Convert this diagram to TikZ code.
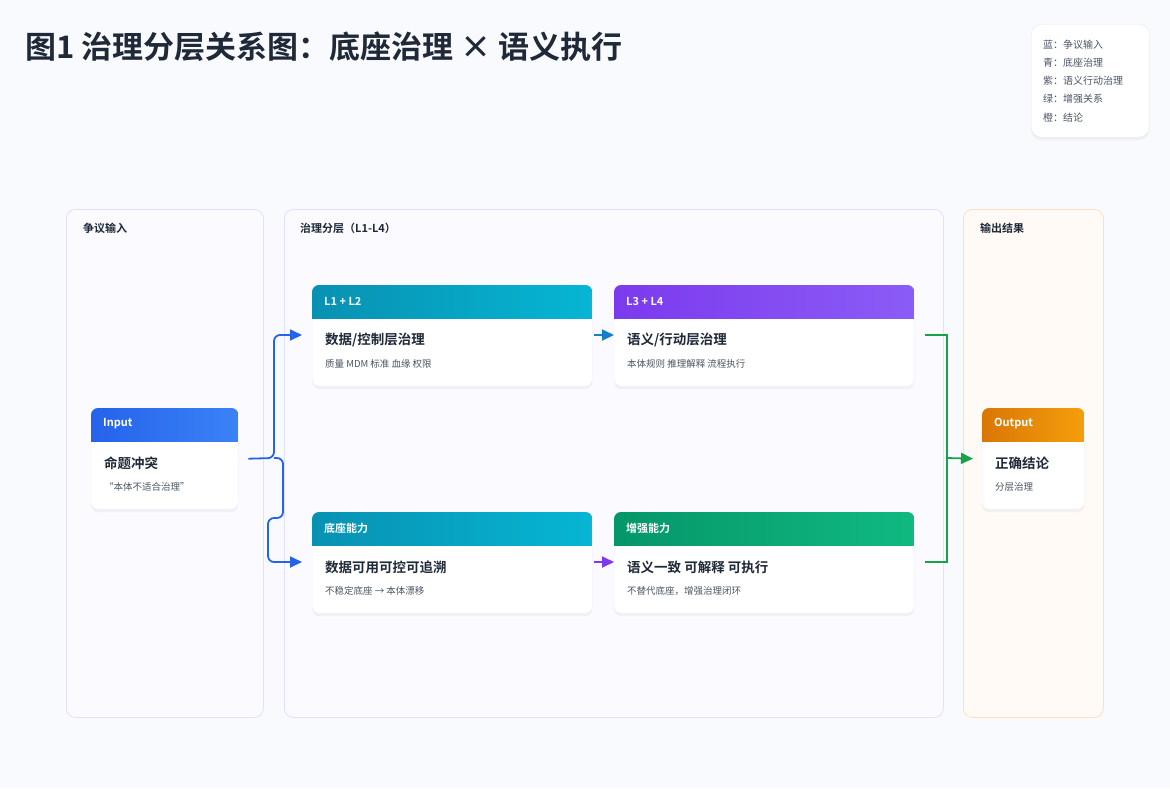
\documentclass[tikz,border=0pt]{standalone}
\usepackage{fontspec}
\setmainfont{Noto Sans CJK SC}[BoldFont=* Bold]
\usetikzlibrary{positioning,shadows,arrows.meta}
\definecolor{bgc}{HTML}{F9FAFE}
\definecolor{ink}{HTML}{1F2937}
\definecolor{gry}{HTML}{4B5563}
\definecolor{bluA}{HTML}{2563EB}\definecolor{bluB}{HTML}{3B82F6}
\definecolor{cyaA}{HTML}{0891B2}\definecolor{cyaB}{HTML}{06B6D4}
\definecolor{purA}{HTML}{7C3AED}\definecolor{purB}{HTML}{8B5CF6}
\definecolor{grnA}{HTML}{059669}\definecolor{grnB}{HTML}{10B981}
\definecolor{orgA}{HTML}{D97706}\definecolor{orgB}{HTML}{F59E0B}
\definecolor{arrG}{HTML}{16A34A}
\tikzset{
  panel/.style  = {draw=blue!12, rounded corners=9pt, line width=0.8pt, anchor=north west, inner sep=0pt},
  card/.style   = {fill=white, draw=blue!6, rounded corners=7pt, anchor=north west, inner sep=0pt,
                   drop shadow={shadow xshift=0pt, shadow yshift=-3pt, opacity=0.08}},
  hdr/.style    = {anchor=west, inner sep=0pt, text=white, font=\bfseries\fontsize{11}{12}\selectfont},
  ttl/.style    = {anchor=west, inner sep=0pt, text=ink, font=\bfseries\fontsize{13.5}{15}\selectfont},
  sub/.style    = {anchor=west, inner sep=0pt, text=gry, font=\fontsize{9.5}{11}\selectfont},
  plab/.style   = {anchor=west, inner sep=0pt, text=ink, font=\bfseries\fontsize{11}{12}\selectfont},
  tip/.style    = {-{Triangle[length=12pt,width=11pt]}},
  link/.style   = {line width=1.8pt, rounded corners=6pt, tip}
}
\newcommand{\mkcard}[9]{% name, x, y, width, height, colA, colB, header, title/sub
  \node[card, minimum width=#4pt, minimum height=#5pt] (#1) at (#2,#3) {};
  \begin{scope}
    \clip[rounded corners=7pt] (#1.north west) rectangle (#1.south east);
    \shade[left color=#6, right color=#7] (#1.north west) rectangle ([yshift=-33pt]#1.north east);
  \end{scope}
  \node[hdr] (#1-h) at ([xshift=12pt,yshift=-16pt]#1.north west) {#8};
  #9}
\begin{document}
\begin{tikzpicture}[x=1pt,y=-1pt]
  \fill[bgc] (0,0) rectangle (1170,788);
  \useasboundingbox (0,0) rectangle (1170,788);
  \node[anchor=west, inner sep=0pt, text=ink, font=\bfseries\fontsize{31}{34}\selectfont] (title) at (25,47)
    {图1 治理分层关系图：底座治理 × 语义执行};
  % legend
  \node[card, draw=blue!10, minimum width=118pt, minimum height=113pt, rounded corners=10pt] (legend) at (1031,24) {};
  \foreach \t [count=\i] in {蓝：争议输入, 青：底座治理, 紫：语义行动治理, 绿：增强关系, 橙：结论}
    \node[anchor=west, inner sep=0pt, text=gry, font=\fontsize{10}{11}\selectfont] (leg\i) at (1043,26+18.3*\i) {\t};
  % panels
  \node[panel, fill=blue!2, minimum width=197pt, minimum height=508pt] (pin) at (66,209) {};
  \node[panel, fill=blue!2, minimum width=659pt, minimum height=508pt] (pmid) at (284,209) {};
  \node[panel, draw=orange!25, fill=orange!4, minimum width=140pt, minimum height=508pt] (pout) at (963,209) {};
  \node[plab] (pin-l) at (83,228) {争议输入};
  \node[plab] (pmid-l) at (300,228) {治理分层（L1-L4）};
  \node[plab] (pout-l) at (980,228) {输出结果};
  % cards
  \mkcard{inp}{91}{408}{147}{101}{bluA}{bluB}{Input}{%
    \node[ttl] (inp-t) at (104,463) {命题冲突};
    \node[sub] (inp-s) at (104,487) {“本体不适合治理”};}
  \mkcard{dcl}{312}{285}{280}{101}{cyaA}{cyaB}{L1 + L2}{%
    \node[ttl] (dcl-t) at (325,340) {数据/控制层治理};
    \node[sub] (dcl-s) at (325,364) {质量 MDM 标准 血缘 权限};}
  \mkcard{sal}{614}{285}{300}{101}{purA}{purB}{L3 + L4}{%
    \node[ttl] (sal-t) at (627,340) {语义/行动层治理};
    \node[sub] (sal-s) at (627,364) {本体规则 推理解释 流程执行};}
  \mkcard{base}{312}{512}{280}{101}{cyaA}{cyaB}{底座能力}{%
    \node[ttl] (base-t) at (325,567) {数据可用可控可追溯};
    \node[sub] (base-s) at (325,591) {不稳定底座 → 本体漂移};}
  \mkcard{enh}{614}{512}{300}{101}{grnA}{grnB}{增强能力}{%
    \node[ttl] (enh-t) at (627,567) {语义一致 可解释 可执行};
    \node[sub] (enh-s) at (627,591) {不替代底座，增强治理闭环};}
  \mkcard{outp}{982}{408}{102}{101}{orgA}{orgB}{Output}{%
    \node[ttl] (outp-t) at (995,463) {正确结论};
    \node[sub] (outp-s) at (995,487) {分层治理};}
  % connectors
  \coordinate (split) at (274,458);
  \coordinate (join) at (947,458);
  \draw[link, bluA] ([xshift=10pt]inp.east) -- (split) -- (274,335) -- ([xshift=-10pt]dcl.west |- 0,335);
  \draw[link, bluA] (split) -- (283,458) -- (283,518) -- (268,518) -- (268,562) -- ([xshift=-10pt]base.west |- 0,562);
  \draw[line width=1.8pt, cyaA!60!bluA, tip] (594,335) -- (sal.west |- 0,335);
  \draw[line width=1.8pt, purA, tip] (594,562) -- (enh.west |- 0,562);
  \draw[line width=1.8pt, arrG] ([xshift=11pt]sal.east |- 0,335) -| (join) |- ([xshift=11pt]enh.east |- 0,562);
  \draw[line width=1.8pt, arrG, tip] (join) -- ([xshift=-9pt]outp.west);
\end{tikzpicture}
\end{document}
